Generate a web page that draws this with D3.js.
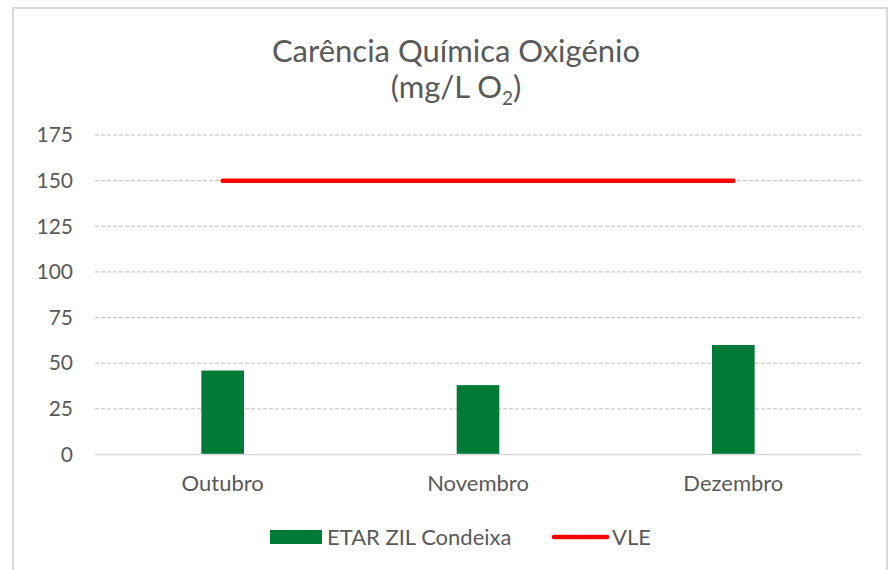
<!DOCTYPE html>
<meta charset="utf-8">
<style>
body { margin: 0; background: #fff; }
.axis text { font: 21px Lato, sans-serif; fill: #595959; }
.axis.x text { font-size: 22px; }
</style>
<body>
<div id="chart"></div>
<script src="https://d3js.org/d3.v7.min.js"></script>
<script>
var data = [
  {mes: "Outubro", etar: 46, vle: 150},
  {mes: "Novembro", etar: 38, vle: 150},
  {mes: "Dezembro", etar: 60, vle: 150}
];

var W = 892, H = 570;
var margin = {top: 135, right: 31, bottom: 115.5, left: 95},
    width = W - margin.left - margin.right,
    height = H - margin.top - margin.bottom;

var svg = d3.select("#chart").append("svg")
  .attr("width", W).attr("height", H);

// chart frame
svg.append("rect")
  .attr("x", 13).attr("y", 8).attr("width", 874).attr("height", 580)
  .attr("fill", "none").attr("stroke", "#d9d9d9").attr("stroke-width", 2);

// title
var title = svg.append("text")
  .attr("text-anchor", "middle")
  .attr("font-family", "Lato, sans-serif")
  .attr("font-size", "31px")
  .attr("fill", "#595959");
title.append("tspan").attr("x", 456).attr("y", 62).text("Carência Química Oxigénio");
var t2 = title.append("tspan").attr("x", 456).attr("y", 98);
t2.append("tspan").text("(mg/L O");
t2.append("tspan").attr("font-size", "19px").attr("dy", 7).text("2");
t2.append("tspan").attr("dy", -7).text(")");

var g = svg.append("g")
  .attr("transform", "translate(" + margin.left + "," + margin.top + ")");

var x = d3.scaleBand().domain(data.map(function(d) { return d.mes; })).range([0, width]);
var y = d3.scaleLinear().domain([0, 175]).range([height, 0]);
var barW = x.bandwidth() * 0.167;

// gridlines
g.append("g").selectAll("line")
  .data(d3.range(25, 176, 25))
  .enter().append("line")
  .attr("x1", 0).attr("x2", width)
  .attr("y1", function(v) { return y(v); })
  .attr("y2", function(v) { return y(v); })
  .attr("stroke", "#bfbfbf")
  .attr("stroke-width", 1)
  .attr("stroke-dasharray", "4,2");

// y axis labels
var yAxis = g.append("g").attr("class", "axis")
  .call(d3.axisLeft(y).tickValues(d3.range(0, 176, 25)).tickSize(0).tickPadding(22));
yAxis.select(".domain").remove();

// bars
g.append("g").selectAll("rect")
  .data(data)
  .enter().append("rect")
  .attr("x", function(d) { return x(d.mes) + x.bandwidth() / 2 - barW / 2; })
  .attr("y", function(d) { return y(d.etar); })
  .attr("width", barW)
  .attr("height", function(d) { return height - y(d.etar); })
  .attr("fill", "#007A37");

// baseline + x labels
g.append("line")
  .attr("x1", 0).attr("x2", width)
  .attr("y1", height).attr("y2", height)
  .attr("stroke", "#d9d9d9").attr("stroke-width", 1.5);

var xAxis = g.append("g").attr("class", "axis x")
  .attr("transform", "translate(0," + height + ")")
  .call(d3.axisBottom(x).tickSize(0).tickPadding(21));
xAxis.select(".domain").remove();

// VLE line
var line = d3.line()
  .x(function(d) { return x(d.mes) + x.bandwidth() / 2; })
  .y(function(d) { return y(d.vle); });

g.append("path")
  .datum(data)
  .attr("d", line)
  .attr("fill", "none")
  .attr("stroke", "#ff0000")
  .attr("stroke-width", 4.5)
  .attr("stroke-linecap", "round");

// legend
var leg = svg.append("g").attr("font-family", "Lato, sans-serif")
  .attr("font-size", "22px").attr("fill", "#595959");
leg.append("rect").attr("x", 270).attr("y", 530).attr("width", 52).attr("height", 14).attr("fill", "#007A37");
leg.append("text").attr("x", 327).attr("y", 545).text("ETAR ZIL Condeixa");
leg.append("line").attr("x1", 554).attr("x2", 607).attr("y1", 537).attr("y2", 537)
  .attr("stroke", "#ff0000").attr("stroke-width", 4.5).attr("stroke-linecap", "round");
leg.append("text").attr("x", 612).attr("y", 545).text("VLE");
</script>
</body>
